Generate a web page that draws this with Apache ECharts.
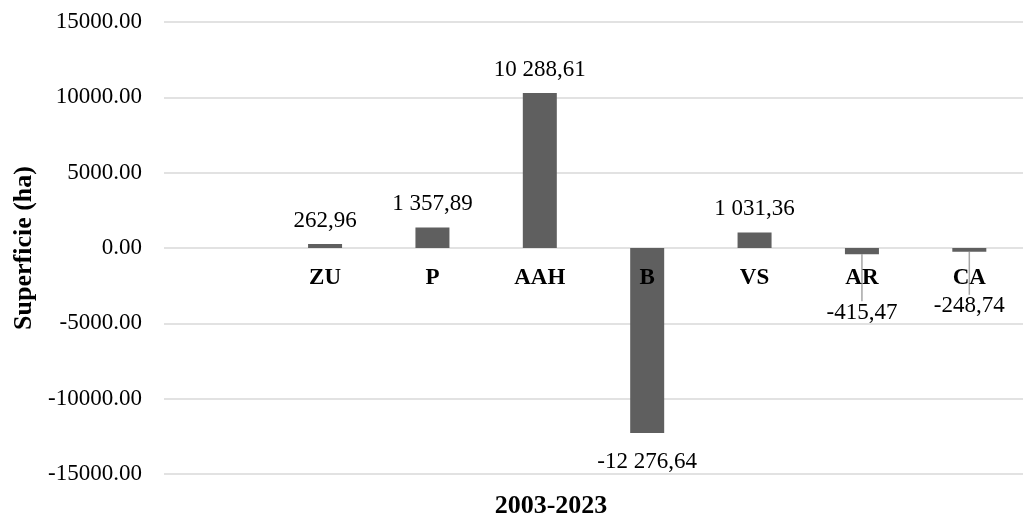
<!DOCTYPE html>
<html>
<head>
<meta charset="utf-8">
<script src="https://cdn.jsdelivr.net/npm/echarts@6/dist/echarts.min.js"></script>
<style>
html,body{margin:0;padding:0;background:#fff;}
#chart{width:1023px;height:518px;}
</style>
</head>
<body>
<div id="chart"></div>
<script>
// ---- data ----
const categories = ['ZU', 'P', 'AAH', 'B', 'VS', 'AR', 'CA'];
const values = [262.96, 1357.89, 10288.61, -12276.64, 1031.36, -415.47, -248.74];
const yTicks = [-15000, -10000, -5000, 0, 5000, 10000, 15000];
const xTitle = '2003-2023';
const yTitle = 'Superficie (ha)';

// ---- helpers ----
function frFmt(v) {
  const neg = v < 0;
  const s = Math.abs(v).toFixed(2).split('.');
  const intPart = s[0].replace(/\B(?=(\d{3})+(?!\d))/g, ' ');
  return (neg ? '-' : '') + intPart + ',' + s[1];
}
const FONT = '"Liberation Serif", "Times New Roman", serif';

const GRID_TOP = 22, GRID_BOTTOM = 44, H = 518;
const plotH = H - GRID_TOP - GRID_BOTTOM;
const yMin = yTicks[0], yMax = yTicks[yTicks.length - 1];
// shift the category axis up so it sits on the zero line
const zeroOffset = -plotH * (0 - yMin) / (yMax - yMin);

// leading empty slot (the reference leaves one empty band before ZU)
const axisCats = [''].concat(categories);
const leaderShift = { AR: 30, CA: 26 };
const seriesData = [null].concat(values.map((v, i) => {
  const item = {
    value: v,
    label: { position: v >= 0 ? 'top' : 'bottom', distance: v >= 0 ? 12 : 17 }
  };
  if (leaderShift[categories[i]] !== undefined) {
    item.labelLine = { show: true };
  }
  return item;
}));

const chart = echarts.init(document.getElementById('chart'));
chart.setOption({
  animation: false,
  backgroundColor: '#fff',
  grid: { left: 164, top: GRID_TOP, bottom: GRID_BOTTOM, width: 872, containLabel: false },
  xAxis: {
    type: 'category',
    data: axisCats,
    z: 5,
    offset: zeroOffset,
    axisLine: { onZero: false, show: false },
    axisTick: { show: false },
    axisLabel: {
      interval: 0, margin: 19,
      fontFamily: FONT, fontWeight: 'bold', fontSize: 23, color: '#000'
    },
    splitLine: { show: false }
  },
  yAxis: {
    type: 'value',
    min: yMin, max: yMax, interval: 5000,
    name: yTitle,
    nameLocation: 'middle',
    nameGap: 122,
    nameTextStyle: { fontFamily: FONT, fontWeight: 'bold', fontSize: 26, color: '#000' },
    axisLine: { show: false },
    axisTick: { show: false },
    axisLabel: {
      margin: 22,
      fontFamily: FONT, fontSize: 23, color: '#000',
      formatter: v => v.toFixed(2)
    },
    splitLine: { lineStyle: { color: '#d9d9d9', width: 1.5 } }
  },
  graphic: [{
    type: 'text',
    x: 551, y: 506,
    style: {
      text: xTitle,
      font: 'bold 26px ' + FONT,
      fill: '#000',
      textAlign: 'center',
      textVerticalAlign: 'middle'
    }
  }],
  series: [{
    type: 'bar',
    data: seriesData,
    barWidth: 34,
    itemStyle: { color: '#5f5f5f' },
    label: {
      show: true,
      fontFamily: FONT, fontSize: 23, color: '#000',
      formatter: p => frFmt(p.value)
    },
    labelLine: { show: false, lineStyle: { color: '#a6a6a6', width: 1.5 } },
    labelLayout: function (params) {
      const cat = axisCats[params.dataIndex];
      if (leaderShift[cat] !== undefined) {
        return { dy: leaderShift[cat] };
      }
      return {};
    }
  }]
});
</script>
</body>
</html>
